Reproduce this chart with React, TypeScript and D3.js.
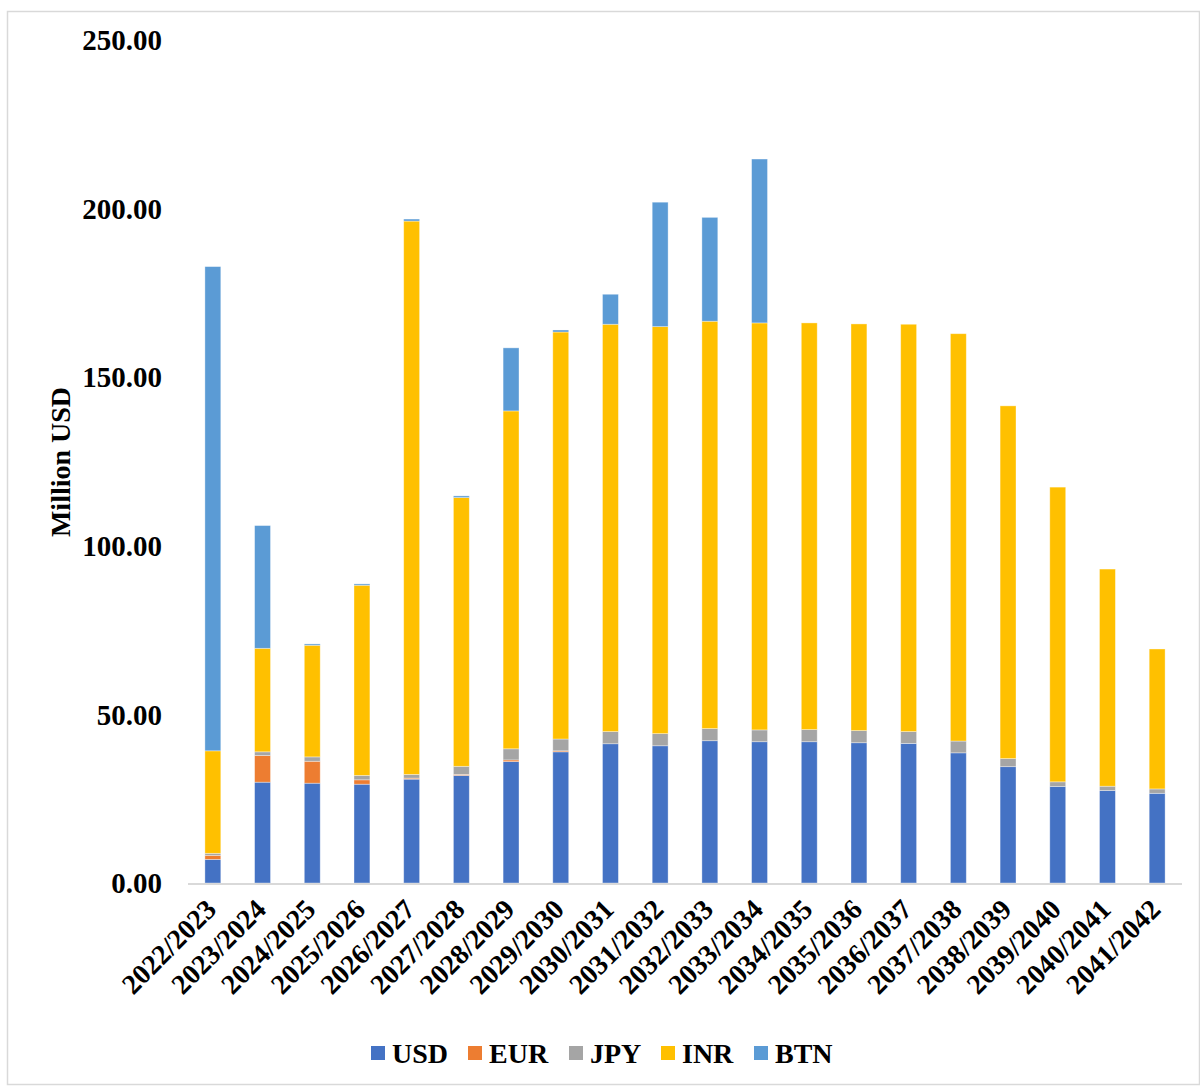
import * as d3 from 'd3';

const years = [
  '2022/2023', '2023/2024', '2024/2025', '2025/2026', '2026/2027',
  '2027/2028', '2028/2029', '2029/2030', '2030/2031', '2031/2032',
  '2032/2033', '2033/2034', '2034/2035', '2035/2036', '2036/2037',
  '2037/2038', '2038/2039', '2039/2040', '2040/2041', '2041/2042',
];

const usd = [7.0, 29.9, 29.6, 29.3, 30.8, 31.9, 36.0, 38.9, 41.3, 40.7, 42.2, 41.9, 41.9, 41.6, 41.4, 38.6, 34.5, 28.6, 27.4, 26.6];
const eur = [1.2, 7.9, 6.5, 1.3, 0.3, 0.3, 0.5, 0.3, 0, 0, 0, 0, 0, 0, 0, 0, 0, 0, 0, 0];
const jpy = [0.6, 1.1, 1.3, 1.3, 1.1, 2.4, 3.3, 3.5, 3.6, 3.6, 3.6, 3.5, 3.6, 3.6, 3.5, 3.5, 2.4, 1.4, 1.3, 1.3];
const inr = [30.4, 30.7, 33.1, 56.4, 164.1, 79.7, 100.2, 120.7, 120.8, 120.7, 120.8, 120.7, 120.6, 120.6, 120.8, 120.8, 104.6, 87.4, 64.4, 41.5];
const btn = [143.6, 36.4, 0.4, 0.4, 0.6, 0.5, 18.7, 0.6, 8.9, 36.9, 30.8, 48.6, 0, 0, 0, 0, 0, 0, 0, 0];

const seriesNames = ['USD', 'EUR', 'JPY', 'INR', 'BTN'];
const seriesValues = [usd, eur, jpy, inr, btn];
const yTicks = [0, 50, 100, 150, 200, 250];

const COLORS: Record<string, string> = {
  USD: '#4472C4',
  EUR: '#ED7D31',
  JPY: '#A5A5A5',
  INR: '#FFC000',
  BTN: '#5B9BD5',
};

const FONT = '"Liberation Serif", "Times New Roman", serif';

export default function App() {
  const width = 1200;
  const height = 1086;
  const plot = { left: 188, right: 1182, top: 40, bottom: 883 };

  // rows for d3.stack
  const rows = years.map((y, i) => {
    const r: Record<string, number | string> = { year: y };
    seriesNames.forEach((s, k) => { r[s] = seriesValues[k][i]; });
    return r;
  });
  const stacked = d3.stack<Record<string, number | string>>()
    .keys(seriesNames)
    .value((d, key) => d[key] as number)(rows);

  const x = d3.scaleBand()
    .domain(years)
    .range([plot.left, plot.right])
    .paddingInner(0.68)
    .paddingOuter(0.34);

  const y = d3.scaleLinear()
    .domain([0, 250])
    .range([plot.bottom, plot.top]);

  const legendX = [371, 468, 569, 661, 754];

  return (
    <svg
      width={width}
      height={height}
      style={{ position: 'absolute', left: 0, top: 0, background: '#fff' }}
      fontFamily={FONT}
    >
      <rect x={7.5} y={11.5} width={1192} height={1073} fill="#fff" stroke="#D9D9D9" strokeWidth={1.5} />

      {/* y tick labels */}
      {yTicks.map(t => (
        <text
          key={t}
          x={162}
          y={y(t)}
          dy="0.35em"
          textAnchor="end"
          fontSize={29}
          fontWeight="bold"
          fill="#000"
        >{t.toFixed(2)}</text>
      ))}

      {/* y axis title */}
      <text
        transform={`translate(70,${462}) rotate(-90)`}
        textAnchor="middle"
        fontSize={28}
        fontWeight="bold"
        fill="#000"
      >Million USD</text>

      {/* bars */}
      {stacked.map(layer => (
        <g key={layer.key} fill={COLORS[layer.key]}>
          {layer.map((d, i) => {
            const h = y(d[0]) - y(d[1]);
            if (h <= 0) return null;
            return (
              <rect
                key={i}
                x={x(years[i]) ?? 0}
                y={y(d[1])}
                width={x.bandwidth()}
                height={h}
                stroke="#fff"
                strokeOpacity={0.45}
                strokeWidth={0.8}
              />
            );
          })}
        </g>
      ))}

      {/* x axis line */}
      <line x1={plot.left} x2={plot.right} y1={plot.bottom + 1} y2={plot.bottom + 1} stroke="#D9D9D9" strokeWidth={2} />

      {/* x tick labels */}
      {years.map(yr => {
        const cx = (x(yr) ?? 0) + x.bandwidth() / 2 + 5;
        return (
          <text
            key={yr}
            transform={`translate(${cx},${911}) rotate(-45)`}
            textAnchor="end"
            fontSize={28}
            fontWeight="bold"
            fill="#000"
          >{yr}</text>
        );
      })}

      {/* legend */}
      {seriesNames.map((s, i) => (
        <g key={s} transform={`translate(${legendX[i]},${1046})`}>
          <rect width={14} height={14} fill={COLORS[s]} />
          <text x={21} y={7} dy="0.35em" fontSize={28} fontWeight="bold" fill="#000">{s}</text>
        </g>
      ))}
    </svg>
  );
}
